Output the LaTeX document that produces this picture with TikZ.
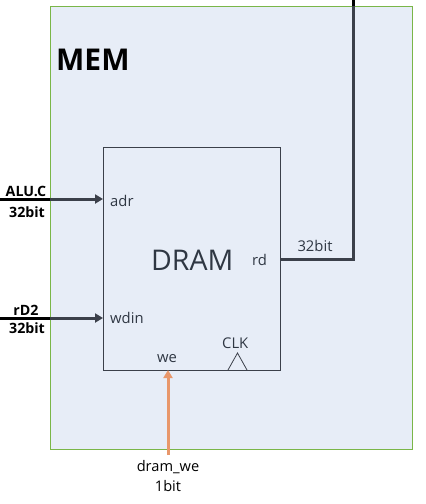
\documentclass[tikz,border=0pt]{standalone}
\usepackage{fontspec}
\setmainfont{Open Sans}
\usetikzlibrary{arrows.meta}
\definecolor{memfill}{HTML}{E7EDF7}
\definecolor{memedge}{HTML}{7AB648}
\definecolor{dgray}{HTML}{3B404A}
\definecolor{txtgray}{HTML}{2F3743}
\definecolor{weorange}{HTML}{E8976B}
\begin{document}
\begin{tikzpicture}[x=1pt,y=-1pt,
  memstyle/.style={draw=memedge,fill=memfill,line width=1pt,inner sep=0pt,minimum width=362pt,minimum height=443pt,anchor=north west},
  dramstyle/.style={draw=dgray,line width=1pt,inner sep=0pt,minimum width=177pt,minimum height=223pt,anchor=north west},
  port/.style={font=\fontsize{14.8}{17}\selectfont,text=txtgray,inner sep=0pt,anchor=base west},
  extlbl/.style={font=\bfseries\fontsize{14.2}{16}\selectfont,text=black,inner sep=0pt,anchor=base},
  botlbl/.style={font=\fontsize{14.6}{16}\selectfont,text=black,inner sep=0pt,anchor=base},
  bus/.style={line width=3pt,draw=dgray},
  busarrow/.style={bus,-{Triangle[length=8pt,width=9pt]}}
]
\useasboundingbox (0,0) rectangle (426,504);
\node[memstyle] (mem) at (50,6) {};
\node[inner sep=0pt,anchor=base west,font=\bfseries\fontsize{30}{33}\selectfont] (memlbl) at (56,70) {MEM};
\node[dramstyle] (dram) at (103,147) {};
\node[inner sep=0pt,anchor=base west,text=txtgray,font=\fontsize{28.5}{31}\selectfont] (dramlbl) at (151,270) {DRAM};
\node[port] (adr) at (110,206) {adr};
\node[port] (wdin) at (110,323) {wdin};
\node[port] (rd) at (252,265) {rd};
\node[port] (we) at (157,362) {we};
\node[port] (clk) at (222,348) {CLK};
\node[port,anchor=base] (rdbits) at (315,251) {32bit};
% clock triangle
\coordinate (tl) at (228,370);
\coordinate (tt) at (237.5,353);
\coordinate (tr) at (247,370);
\draw[dgray,line width=0.8pt] (tl) -- (tt) -- (tr);
% inputs
\coordinate (adrin) at (0,199);
\coordinate (adredge) at (50,199);
\coordinate (adrtip) at (103,199);
\draw[bus,draw=black] (adrin) -- (adredge);
\draw[busarrow] (adredge) -- (adrtip);
\node[extlbl] (aluc) at (26,196) {ALU.C};
\node[extlbl] (alubits) at (27,217) {32bit};
\coordinate (wdin0) at (0,318);
\coordinate (wdinedge) at (50,318);
\coordinate (wdintip) at (103,318);
\draw[bus,draw=black] (wdin0) -- (wdinedge);
\draw[busarrow] (wdinedge) -- (wdintip);
\node[extlbl] (rdtwo) at (26,315) {rD2};
\node[extlbl] (rdtwobits) at (27,333) {32bit};
% output
\coordinate (rdout) at (280,259);
\coordinate (rdcorner) at (353,259);
\coordinate (rdedge) at (353,6);
\coordinate (rdtop) at (353,0);
\draw[bus,line join=miter] (rdout) -- (rdcorner) -- (rdedge);
\draw[bus,draw=black] (rdedge) -- (rdtop);
% write enable
\coordinate (wesrc) at (168,455);
\coordinate (wetip) at (168,370);
\draw[line width=3pt,draw=weorange,-{Triangle[length=8pt,width=9pt]}] (wesrc) -- (wetip);
\node[botlbl] (dramwe) at (168,471) {dram\_we};
\node[botlbl] (webits) at (168,491) {1bit};
\end{tikzpicture}
\end{document}
